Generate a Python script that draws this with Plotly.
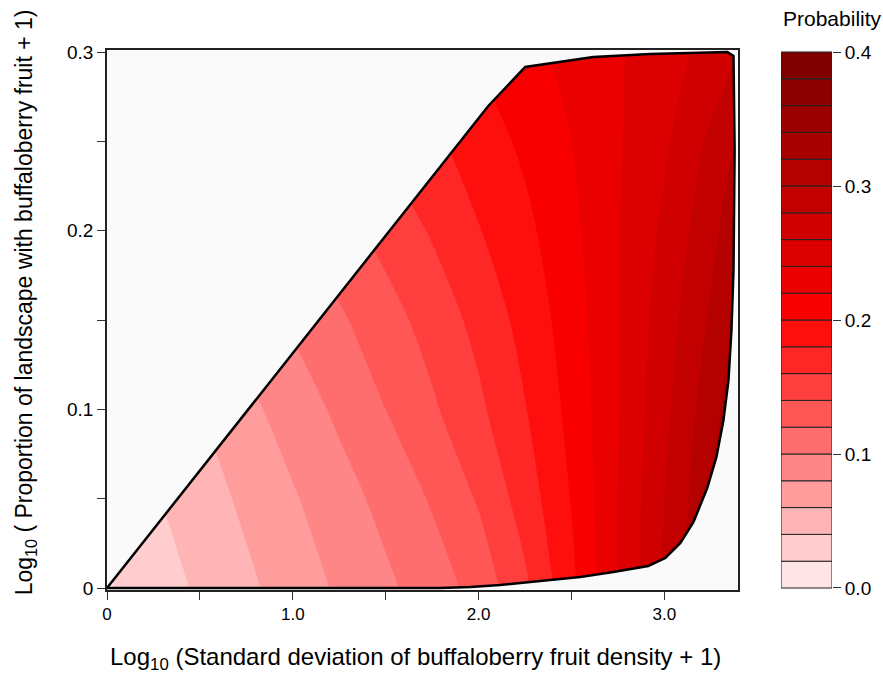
import plotly.graph_objects as go

# Grade do modelo: x = log10(desvio padrão + 1), y = log10(proporção + 1)
x_grid = [0.0, 0.25, 0.5, 0.75, 1.0, 1.25, 1.5, 1.75, 2.0, 2.25, 2.5, 2.75, 3.0, 3.25, 3.5]
y_grid = [0.0, 0.05, 0.10, 0.15, 0.20, 0.25, 0.30]

# probabilidade, uma linha para cada valor de y
prob_y000 = [0.018, 0.030, 0.043, 0.056, 0.069, 0.083, 0.096, 0.110, 0.127, 0.156, 0.195, 0.240, 0.283, 0.326, 0.370]
prob_y005 = [0.025, 0.038, 0.051, 0.064, 0.078, 0.092, 0.106, 0.122, 0.142, 0.169, 0.201, 0.240, 0.280, 0.318, 0.360]
prob_y010 = [0.034, 0.047, 0.060, 0.075, 0.089, 0.104, 0.120, 0.137, 0.156, 0.179, 0.206, 0.239, 0.275, 0.312, 0.350]
prob_y015 = [0.044, 0.057, 0.072, 0.088, 0.103, 0.117, 0.132, 0.148, 0.166, 0.187, 0.210, 0.239, 0.270, 0.303, 0.340]
prob_y020 = [0.055, 0.071, 0.088, 0.104, 0.117, 0.132, 0.147, 0.162, 0.179, 0.195, 0.215, 0.239, 0.264, 0.294, 0.328]
prob_y025 = [0.071, 0.089, 0.105, 0.118, 0.134, 0.149, 0.163, 0.176, 0.190, 0.204, 0.220, 0.238, 0.257, 0.284, 0.315]
prob_y030 = [0.095, 0.107, 0.120, 0.137, 0.151, 0.165, 0.177, 0.190, 0.202, 0.214, 0.226, 0.238, 0.251, 0.267, 0.290]

# contorno (envoltória) dos dados observados
hull_x = [0.0, 2.052, 2.251, 2.617, 2.924, 3.339, 3.372, 3.378, 3.372, 3.361, 3.345, 3.318,
          3.280, 3.231, 3.156, 3.086, 3.005, 2.913, 2.725, 2.547, 2.332, 2.116, 1.955, 1.793]
hull_y = [0.0, 0.2698, 0.2916, 0.2972, 0.2989, 0.300, 0.2978, 0.2451, 0.1780, 0.1444, 0.1164, 0.0940,
          0.0733, 0.0560, 0.0369, 0.0252, 0.0168, 0.0123, 0.0090, 0.0062, 0.0039, 0.0017, 0.0006, 0.0]

# faixas da escala de probabilidade
band_lo = [0.00, 0.02, 0.04, 0.06, 0.08, 0.10, 0.12, 0.14, 0.16, 0.18,
           0.20, 0.22, 0.24, 0.26, 0.28, 0.30, 0.32, 0.34, 0.36, 0.38]
band_colors = ["#FFE5E5", "#FFCDCD", "#FFB5B5", "#FF9D9D", "#FF8686", "#FF6E6E", "#FF5656",
               "#FF3E3E", "#FF2626", "#FF0E0E", "#F80000", "#EB0000", "#DD0000", "#D00000",
               "#C30000", "#B50000", "#A80000", "#9A0000", "#8D0000", "#800000"]

x_ticks = [0, 0.5, 1.0, 1.5, 2.0, 2.5, 3.0]
x_labels = ["0", "", "1.0", "", "2.0", "", "3.0"]
y_ticks = [0, 0.05, 0.10, 0.15, 0.20, 0.25, 0.30]
y_labels = ["0", "", "0.1", "", "0.2", "", "0.3"]
cb_ticks = [0, 0.1, 0.2, 0.3, 0.4]
cb_labels = ["0.0", "0.1", "0.2", "0.3", "0.4"]

X_RANGE = [0, 3.396]
Y_RANGE = [-0.00112, 0.30112]
FUNDO = "#FAFAFA"
FONTE = "Liberation Sans, Arial, sans-serif"

z = [prob_y000, prob_y005, prob_y010, prob_y015, prob_y020, prob_y025, prob_y030]

# escala em degraus: cada faixa do contorno recebe a cor exata
n = len(band_colors)
escala = [[0, band_colors[0]]]
for k, cor in enumerate(band_colors):
    escala.append([(k + 0.5) / (n + 1), cor])
    escala.append([(k + 1.5) / (n + 1), cor])
escala.append([1, band_colors[-1]])

fig = go.Figure()

# superfície de probabilidade
fig.add_trace(
    go.Contour(
        x=x_grid,
        y=y_grid,
        z=z,
        autocontour=False,
        contours=dict(
            start=band_lo[0],
            end=band_lo[-1] + 0.02,
            size=0.02,
            coloring="fill",
            showlines=False,
        ),
        colorscale=escala,
        line=dict(width=0),
        showscale=False,
        hoverinfo="skip",
    )
)

# máscara fora da envoltória (retângulo com furo)
pad_x = [X_RANGE[0] - 0.1, X_RANGE[1] + 0.1, X_RANGE[1] + 0.1, X_RANGE[0] - 0.1, X_RANGE[0] - 0.1]
pad_y = [Y_RANGE[0] - 0.01, Y_RANGE[0] - 0.01, Y_RANGE[1] + 0.01, Y_RANGE[1] + 0.01, Y_RANGE[0] - 0.01]
mask_x = pad_x + hull_x + [hull_x[0], pad_x[0]]
mask_y = pad_y + hull_y + [hull_y[0], pad_y[0]]

fig.add_trace(
    go.Scatter(
        x=mask_x,
        y=mask_y,
        mode="lines",
        fill="toself",
        fillcolor=FUNDO,
        line=dict(width=0, color=FUNDO),
        hoverinfo="skip",
        showlegend=False,
    )
)

# linha da envoltória
fig.add_trace(
    go.Scatter(
        x=hull_x + [hull_x[0]],
        y=hull_y + [hull_y[0]],
        mode="lines",
        line=dict(color="black", width=2.5),
        hoverinfo="skip",
        showlegend=False,
    )
)

# barra de cores desenhada como barras empilhadas
fig.add_trace(
    go.Bar(
        x=[0] * n,
        y=[0.02] * n,
        base=band_lo,
        width=1,
        marker=dict(
            color=band_colors,
            line=dict(color="#222222", width=1),
        ),
        xaxis="x2",
        yaxis="y2",
        hoverinfo="skip",
        showlegend=False,
    )
)

eixo_comum = dict(
    ticks="outside",
    ticklen=8,
    tickwidth=1,
    tickcolor="#333333",
    showgrid=False,
    zeroline=False,
)

fig.update_layout(
    width=883,
    height=673,
    plot_bgcolor=FUNDO,
    paper_bgcolor="white",
    showlegend=False,
    margin=dict(l=107, r=51, t=50, b=83),
    font=dict(family=FONTE, color="black", size=16),
    xaxis=dict(
        domain=[0, 0.8703],
        range=X_RANGE,
        tickvals=x_ticks,
        ticktext=x_labels,
        tickfont=dict(size=17),
        showline=True,
        mirror=True,
        linecolor="#222222",
        linewidth=1.5,
        **eixo_comum,
    ),
    yaxis=dict(
        domain=[0, 1],
        range=Y_RANGE,
        tickvals=y_ticks,
        ticktext=y_labels,
        tickfont=dict(size=19),
        showline=True,
        mirror=True,
        linecolor="#222222",
        linewidth=1.5,
        **eixo_comum,
    ),
    xaxis2=dict(
        domain=[0.9297, 1.0],
        range=[-0.5, 0.5],
        anchor="y2",
        visible=False,
    ),
    yaxis2=dict(
        domain=[0, 1],
        range=[-0.0015, 0.4015],
        anchor="x2",
        side="right",
        tickvals=cb_ticks,
        ticktext=cb_labels,
        tickfont=dict(size=19),
        showline=False,
        **eixo_comum,
    ),
)

# títulos dos eixos e da escala
fig.add_annotation(
    text="Log<sub>10</sub> (Standard deviation of buffaloberry fruit density + 1)",
    xref="paper", yref="paper",
    x=0.426, y=-0.126,
    xanchor="center", yanchor="middle",
    showarrow=False,
    font=dict(size=24),
)
fig.add_annotation(
    text="Log<sub>10</sub> ( Proportion of landscape with buffaloberry fruit + 1)",
    xref="paper", yref="paper",
    x=-0.113, y=0.533,
    xanchor="center", yanchor="middle",
    textangle=-90,
    showarrow=False,
    font=dict(size=23),
)
fig.add_annotation(
    text="Probability",
    xref="paper", yref="paper",
    x=0.9297, y=1.0,
    xanchor="left", yanchor="bottom",
    yshift=18,
    showarrow=False,
    font=dict(size=21),
)

fig.write_html(
    "out.html",
    config={"displayModeBar": False},
    post_script="document.body.style.margin='0';",
)
